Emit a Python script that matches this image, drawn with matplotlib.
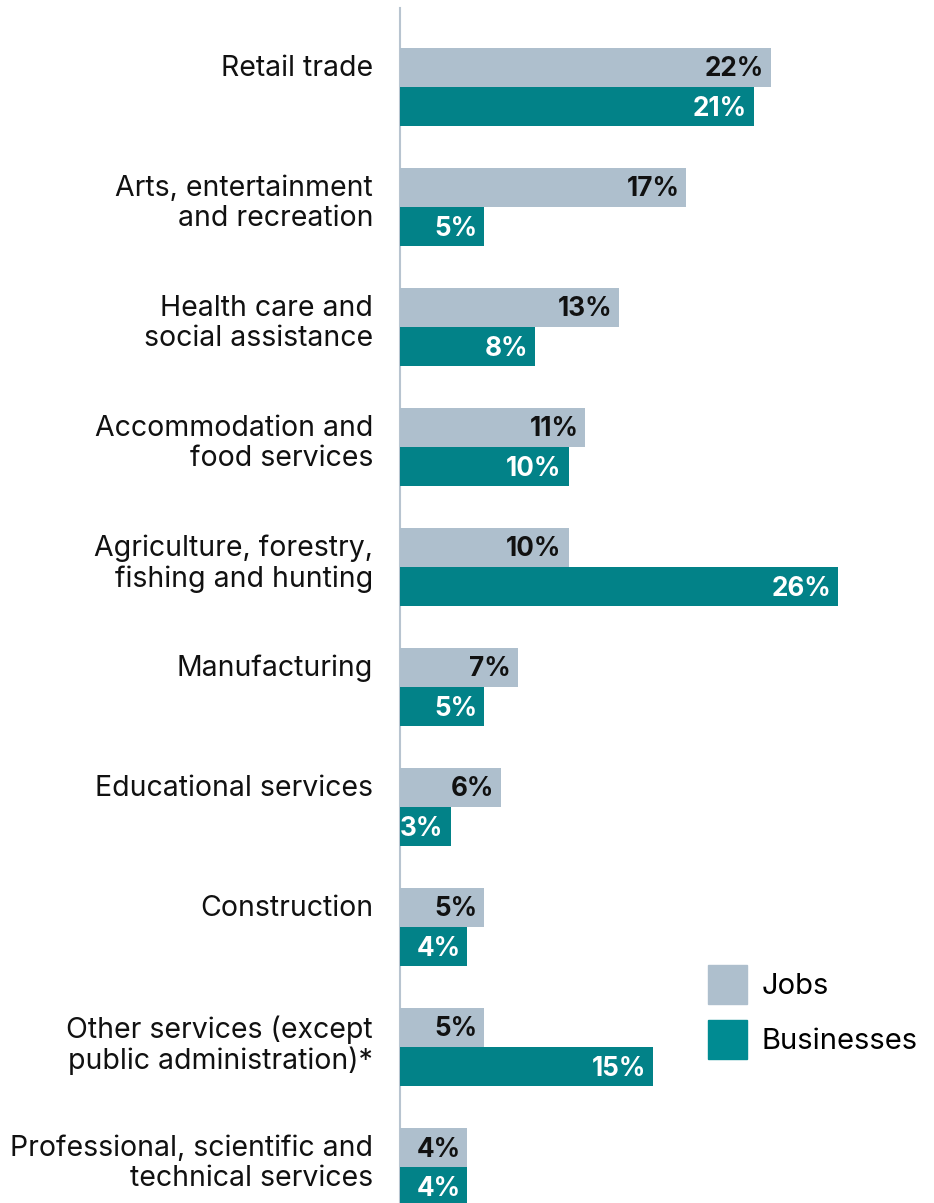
import matplotlib
matplotlib.use("Agg")
import matplotlib.pyplot as plt
from matplotlib.patches import Patch
import numpy as np

plt.rcParams['font.family'] = ['Inter', 'DejaVu Sans']

categories = [
    "Retail trade",
    "Arts, entertainment\nand recreation",
    "Health care and\nsocial assistance",
    "Accommodation and\nfood services",
    "Agriculture, forestry,\nfishing and hunting",
    "Manufacturing",
    "Educational services",
    "Construction",
    "Other services (except\npublic administration)*",
    "Professional, scientific and\ntechnical services",
]
jobs = [22, 17, 13, 11, 10, 7, 6, 5, 5, 4]
businesses = [21, 5, 8, 10, 26, 5, 3, 4, 15, 4]

jobs_color = "#aebfcd"
biz_color = "#028288"
legend_biz_color = "#008b92"
axis_color = "#b8c4d0"

W, H = 934, 1203
fig = plt.figure(figsize=(W / 100, H / 100), dpi=100)
# axes spans from the axis line to the right edge of the figure
ax = fig.add_axes([400 / W, 0, 534 / W, (H - 8) / H])

px_per_unit = 16.85
ax.set_xlim(0, 534 / px_per_unit)
pitch = 120
ax.set_ylim((H - 87) / pitch, (8 - 87) / pitch)

y = np.arange(len(categories))
bh = 39 / pitch
ax.barh(y - bh / 2, jobs, height=bh, color=jobs_color, label="Jobs")
ax.barh(y + bh / 2, businesses, height=bh, color=biz_color, label="Businesses")

pad = 7 / px_per_unit
nudge = 2 / pitch
for i, (j, b) in enumerate(zip(jobs, businesses)):
    ax.text(j - pad, i - bh / 2 + nudge, f"{j}%", ha="right", va="center",
            fontsize=18.8, fontweight="bold", color="#111111")
    ax.text(b - pad, i + bh / 2 + nudge, f"{b}%", ha="right", va="center",
            fontsize=18.8, fontweight="bold", color="white")

# category labels: top-aligned with the top of each group
lab_pad = 27 / px_per_unit
for i, c in enumerate(categories):
    ax.text(-lab_pad, i - bh + 7 / pitch, c, ha="right", va="top",
            multialignment="right", fontsize=20.5, color="#111111",
            linespacing=1.12, clip_on=False)

ax.set_yticks([])
ax.set_xticks([])
for s in ["top", "right", "bottom"]:
    ax.spines[s].set_visible(False)
ax.spines["left"].set_color(axis_color)
ax.spines["left"].set_linewidth(1.5)
ax.spines["left"].set_zorder(0.5)

handles = [Patch(color=jobs_color), Patch(color=legend_biz_color)]
fig.legend(handles, ["Jobs", "Businesses"], loc="upper left",
           bbox_to_anchor=(685 / W, 1 - 942 / H), frameon=False,
           fontsize=21, handlelength=1.337, handleheight=1.68,
           handletextpad=0.5, labelspacing=0.55, borderpad=0.3)

fig.savefig("out.png", dpi=100)
